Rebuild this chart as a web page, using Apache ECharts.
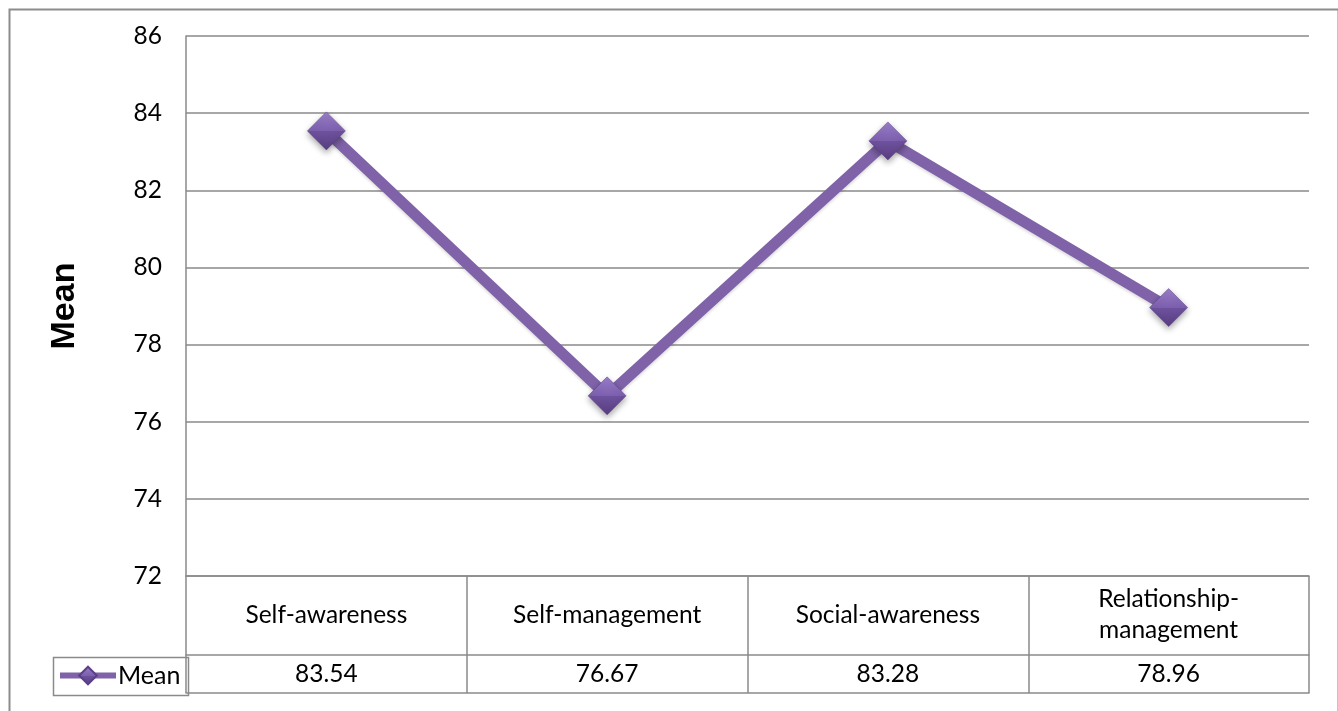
<!DOCTYPE html>
<html>
<head>
<meta charset="utf-8">
<script src="https://cdn.jsdelivr.net/npm/echarts@6/dist/echarts.min.js"></script>
<style>
  html, body { margin: 0; padding: 0; background: #fff; }
  #chart { width: 1338px; height: 711px; }
</style>
</head>
<body>
<div id="chart"></div>
<script>
// Emotional intelligence domains and their mean scores
const categories = ['Self-awareness', 'Self-management', 'Social-awareness', 'Relationship-\nmanagement'];
const meanValues = [83.54, 76.67, 83.28, 78.96];
const seriesName = 'Mean';
const yMin = 72, yMax = 86, yStep = 2;

const FONT = 'Lato, "Open Sans", sans-serif';
const GRID_COLOR = '#8a8a8a';
const LINE_COLOR = '#7f62a8';

const chart = echarts.init(document.getElementById('chart'), null, { renderer: 'canvas' });

const diamondFill = new echarts.graphic.LinearGradient(0, 0, 0, 1, [
  { offset: 0, color: '#9a7fcb' },
  { offset: 0.5, color: '#7c5fae' },
  { offset: 0.5, color: '#6e529e' },
  { offset: 1, color: '#573d80' }
]);

chart.setOption({
  animation: false,
  backgroundColor: '#ffffff',
  grid: { left: 186, right: 29, top: 36, bottom: 135, containLabel: false },
  legend: {
    left: 57, top: 663, padding: 0,
    itemWidth: 56, itemHeight: 22,
    itemGap: 2,
    lineStyle: { width: 6 },
    textStyle: { fontFamily: FONT, fontSize: 25, color: '#000', padding: [0, 0, 0, -3] },
    data: [seriesName]
  },
  xAxis: [
    {
      // category row of the data table
      type: 'category', data: categories, position: 'bottom', boundaryGap: true,
      axisLine: { show: true, lineStyle: { color: GRID_COLOR, width: 1.5 } },
      axisTick: { show: true, interval: 0, length: 117, lineStyle: { color: GRID_COLOR, width: 1.5 } },
      axisLabel: {
        interval: 0, margin: 39, verticalAlign: 'middle',
        fontFamily: FONT, fontSize: 24.5, lineHeight: 31, color: '#000'
      },
      splitLine: { show: false }
    },
    {
      // value row of the data table
      type: 'category', data: categories, position: 'bottom', offset: 79, boundaryGap: true,
      axisLine: { show: true, lineStyle: { color: GRID_COLOR, width: 1.5 } },
      axisTick: { show: false },
      axisLabel: {
        interval: 0, margin: 19, verticalAlign: 'middle',
        fontFamily: FONT, fontSize: 24.5, color: '#000',
        formatter: (v, i) => meanValues[i].toFixed(2)
      }
    },
    {
      // bottom edge of the data table
      type: 'category', data: categories, position: 'bottom', offset: 117, boundaryGap: true,
      axisLine: { show: true, lineStyle: { color: GRID_COLOR, width: 1.5 } },
      axisTick: { show: false },
      axisLabel: { show: false }
    }
  ],
  yAxis: {
    type: 'value', min: yMin, max: yMax, interval: yStep,
    name: seriesName, nameLocation: 'middle', nameGap: 104, nameRotate: 90,
    nameTextStyle: { fontFamily: '"Liberation Sans", Arial, sans-serif', fontWeight: 'bold', fontSize: 34, color: '#000' },
    axisLine: { show: true, lineStyle: { color: GRID_COLOR, width: 1.5 } },
    axisTick: { show: false },
    axisLabel: { margin: 24, fontFamily: FONT, fontSize: 24.5, color: '#000' },
    splitLine: { show: true, lineStyle: { color: GRID_COLOR, width: 1.5 } }
  },
  series: [{
    name: seriesName,
    type: 'line',
    data: meanValues,
    xAxisIndex: 0,
    symbol: 'diamond',
    symbolSize: 38,
    lineStyle: { color: LINE_COLOR, width: 11, shadowColor: 'rgba(0,0,0,0.15)', shadowBlur: 3, shadowOffsetY: 2 },
    itemStyle: {
      color: diamondFill, borderColor: '#5a4186', borderWidth: 0.5,
      shadowColor: 'rgba(0,0,0,0.35)', shadowBlur: 6, shadowOffsetY: 3
    },
    label: { show: false },
    z: 5
  }],
  graphic: [
    {
      // outer chart frame
      type: 'rect', left: 7, top: 7, silent: true,
      shape: { width: 1329, height: 720 },
      style: { fill: 'none', stroke: '#8c8c8c', lineWidth: 2 }
    },
    {
      // legend-key cell of the data table
      type: 'rect', left: 51, top: 655, silent: true,
      shape: { width: 135, height: 38 },
      style: { fill: 'none', stroke: GRID_COLOR, lineWidth: 1.5 }
    }
  ]
});
</script>
</body>
</html>
